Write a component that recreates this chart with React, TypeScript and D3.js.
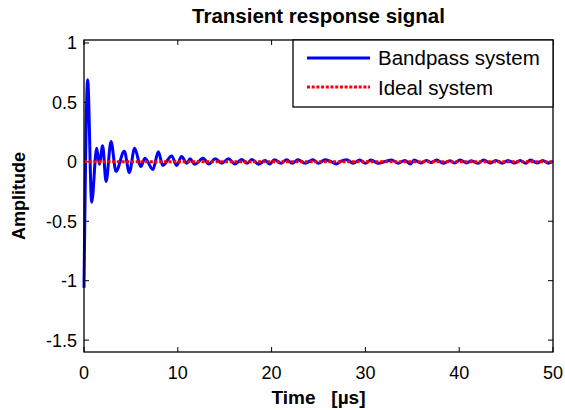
import React from "react";
import * as d3 from "d3";

// signal samples (time in µs, amplitude)
const timeUs = [
  0, 0.39, 0.82, 1.35, 1.63, 1.99, 2.35, 2.88, 3.41, 4.3, 4.83, 5.4, 6.05, 6.5,
  7.35, 7.92, 8.4, 9.35, 9.88, 10.4, 10.95, 11.3, 11.8, 12.7, 13.3, 14.0, 14.7,
  15.4, 16.1, 16.8, 17.4, 17.9, 18.6, 19.3, 19.8, 20.3, 21.0, 21.6, 22.2, 22.8,
  23.6, 24.4, 25.0, 25.7, 26.3, 26.9, 27.4, 28.0, 28.7, 29.4, 30.0, 30.6, 31.4,
  32.1, 32.8, 33.5, 34.2, 34.8, 35.2, 35.9, 36.5, 37.0, 37.6, 38.3, 39.0, 39.5,
  40.1, 40.8, 41.3, 42.0, 42.6, 43.3, 43.9, 44.6, 45.2, 45.9, 46.5, 47.1, 47.6,
  48.3, 48.9, 49.5, 50,
];
const bandpass = [
  -1.06, 0.69, -0.34, 0.115, -0.02, 0.135, -0.165, 0.17, -0.08, 0.09, -0.09,
  0.115, -0.04, 0.03, -0.065, 0.085, -0.03, 0.05, -0.03, 0.045, -0.012, 0.025,
  -0.02, 0.03, -0.018, 0.025, -0.012, 0.025, -0.018, 0.02, -0.012, 0.02, -0.02,
  0.012, -0.018, 0.018, -0.012, 0.018, -0.012, 0.018, -0.012, 0.018, -0.012,
  0.018, 0.003, -0.018, 0.006, 0.018, -0.012, 0.015, -0.012, 0.015, -0.012,
  0.003, 0.015, -0.012, 0.012, -0.018, 0.015, -0.01, 0.012, -0.006, 0.015,
  -0.012, 0.01, -0.01, 0.015, -0.01, 0.01, -0.012, 0.015, -0.01, 0.012, -0.012,
  0.012, -0.01, 0.012, -0.012, 0.015, -0.01, 0.012, -0.012, 0.006,
];
const idealTime = [0, 50];
const ideal = [0, 0];

const xTicks = [0, 10, 20, 30, 40, 50];
const yTicks = [1, 0.5, 0, -0.5, -1, -1.5];
const yTickLabels = ["1", "0.5", "0", "-0.5", "-1", "-1.5"];
const seriesNames = ["Bandpass system", "Ideal system"];

const W = 565;
const H = 410;
const left = 84;
const right = 553;
const top = 40;
const bottom = 352;
const font = "Arial, 'Liberation Sans', Helvetica, sans-serif";

export default function App() {
  const x = d3.scaleLinear().domain([0, 50]).range([left, right]);
  const y = d3.scaleLinear().domain([-1.6, 1.025]).range([bottom, top]);

  const line = d3
    .line<number>()
    .x((_, i) => x(timeUs[i]))
    .y((d) => y(d))
    .curve(d3.curveMonotoneX);

  const idealLine = d3
    .line<number>()
    .x((_, i) => x(idealTime[i]))
    .y((d) => y(d));

  const tick = 5;
  const legend = { x0: 293, y0: top, x1: right, y1: 107 };

  return (
    <svg
      width={W}
      height={H}
      style={{ position: "absolute", left: 0, top: 0, background: "#fff" }}
      fontFamily={font}
    >
      <rect x={0} y={0} width={W} height={H} fill="#fff" />

      {/* title */}
      <text x={(left + right) / 2} y={23} textAnchor="middle" fontSize={20.5} fontWeight="bold">
        Transient response signal
      </text>

      {/* ticks */}
      {xTicks.map((t) => (
        <g key={"x" + t}>
          <line x1={x(t)} x2={x(t)} y1={bottom} y2={bottom - tick} stroke="#000" />
          <line x1={x(t)} x2={x(t)} y1={top} y2={top + tick} stroke="#000" />
          <text x={x(t)} y={379} textAnchor="middle" fontSize={18}>
            {t}
          </text>
        </g>
      ))}
      {yTicks.map((t, i) => (
        <g key={"y" + t}>
          <line x1={left} x2={left + tick} y1={y(t)} y2={y(t)} stroke="#000" />
          <line x1={right} x2={right - tick} y1={y(t)} y2={y(t)} stroke="#000" />
          <text x={left - 7} y={y(t) + 6.5} textAnchor="end" fontSize={18}>
            {yTickLabels[i]}
          </text>
        </g>
      ))}

      {/* data */}
      <path d={line(bandpass) || ""} fill="none" stroke="#0000ff" strokeWidth={3} strokeLinejoin="round" />
      <path
        d={idealLine(ideal) || ""}
        fill="none"
        stroke="#ff0000"
        strokeWidth={3}
        strokeDasharray="3,1.7"
      />

      {/* frame */}
      <rect x={left} y={top} width={right - left} height={bottom - top} fill="none" stroke="#000" strokeWidth={1.3} />

      {/* legend */}
      <rect
        x={legend.x0}
        y={legend.y0}
        width={legend.x1 - legend.x0}
        height={legend.y1 - legend.y0}
        fill="#fff"
        stroke="#000"
        strokeWidth={1.3}
      />
      <line x1={307} x2={370} y1={58} y2={58} stroke="#0000ff" strokeWidth={3} />
      <line x1={307} x2={370} y1={87} y2={87} stroke="#ff0000" strokeWidth={3} strokeDasharray="3,1.7" />
      <text x={378} y={64.5} fontSize={20.5}>
        {seriesNames[0]}
      </text>
      <text x={378} y={94.5} fontSize={20.5}>
        {seriesNames[1]}
      </text>

      {/* axis labels */}
      <text
        x={(left + right) / 2}
        y={404}
        textAnchor="middle"
        fontSize={19}
        fontWeight="bold"
        style={{ whiteSpace: "pre" }}
      >
        {"Time\u00a0\u00a0 [\u00b5s]"}
      </text>
      <text
        transform={`translate(25,${(top + bottom) / 2}) rotate(-90)`}
        textAnchor="middle"
        fontSize={18}
        fontWeight="bold"
      >
        Amplitude
      </text>
    </svg>
  );
}
